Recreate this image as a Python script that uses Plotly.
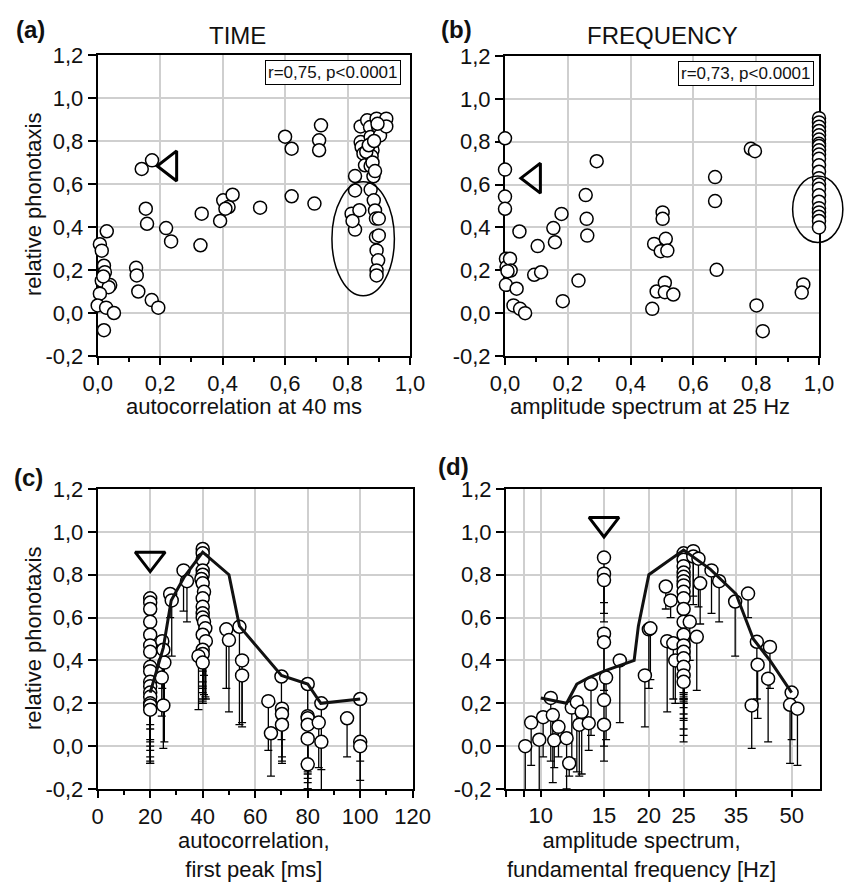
import plotly.graph_objects as go

# ---------------- data ----------------
# Panel (a): autocorrelation at 40 ms vs relative phonotaxis
a_x = [0.029, 0.007, 0.013, 0.020, 0.023, 0.013, 0.040, 0.035, 0.007, 0.000, 0.027, 0.052, 0.020, 0.018,
       0.123, 0.125, 0.130, 0.173, 0.194, 0.141, 0.174, 0.154, 0.158, 0.219, 0.235,
       0.333, 0.329, 0.392, 0.402, 0.419, 0.409, 0.432, 0.520, 0.600, 0.621, 0.621, 0.694, 0.715, 0.709, 0.709,
       0.824, 0.824, 0.813, 0.824, 0.816, 0.838, 0.842, 0.842, 0.845, 0.851, 0.856, 0.863, 0.872, 0.874,
       0.877, 0.880, 0.877, 0.874, 0.883, 0.874, 0.884, 0.888, 0.891, 0.900, 0.891, 0.900, 0.893, 0.898,
       0.893, 0.893, 0.893, 0.898, 0.904, 0.924, 0.924, 0.896, 0.860, 0.868, 0.880, 0.885, 0.888]
a_y = [0.38, 0.32, 0.29, 0.22, 0.19, 0.15, 0.13, 0.12, 0.09, 0.035, 0.025, 0.00, -0.08, 0.17,
       0.21, 0.175, 0.10, 0.06, 0.025, 0.67, 0.71, 0.485, 0.415, 0.395, 0.333,
       0.462, 0.315, 0.428, 0.524, 0.493, 0.485, 0.55, 0.49, 0.82, 0.764, 0.543, 0.509, 0.873, 0.803, 0.757,
       0.637, 0.57, 0.462, 0.388, 0.428, 0.478, 0.868, 0.795, 0.772, 0.741, 0.687, 0.896, 0.865, 0.819,
       0.788, 0.757, 0.729, 0.684, 0.636, 0.574, 0.524, 0.477, 0.439, 0.439, 0.353, 0.361, 0.291, 0.245,
       0.198, 0.175, 0.904, 0.865, 0.826, 0.904, 0.868, 0.88, 0.75, 0.78, 0.70, 0.80, 0.66]

# Panel (b): amplitude spectrum at 25 Hz vs relative phonotaxis
b_x = [0.0, 0.0, 0.0, 0.0, 0.003, 0.005, 0.016, 0.018, 0.008, 0.003, 0.037, 0.046, 0.027, 0.048, 0.064,
       0.104, 0.093, 0.115, 0.154, 0.159, 0.180, 0.184, 0.234, 0.257, 0.260, 0.262, 0.292,
       0.469, 0.475, 0.496, 0.502, 0.502, 0.512, 0.517, 0.483, 0.509, 0.509, 0.536,
       0.669, 0.669, 0.674, 0.783, 0.796, 0.801, 0.821, 0.950, 0.945,
       1.0, 1.0, 1.0, 1.0, 1.0, 1.0, 1.0, 1.0, 1.0, 1.0, 1.0, 1.0,
       1.0, 1.0, 1.0, 1.0, 1.0, 1.0, 1.0, 1.0, 1.0, 1.0, 1.0]
b_y = [0.816, 0.67, 0.544, 0.487, 0.254, 0.215, 0.254, 0.199, 0.196, 0.132, 0.114, 0.381, 0.036, 0.02, 0.0,
       0.313, 0.179, 0.191, 0.397, 0.331, 0.463, 0.056, 0.152, 0.551, 0.44, 0.362, 0.709,
       0.02, 0.323, 0.289, 0.47, 0.44, 0.347, 0.292, 0.101, 0.142, 0.098, 0.087,
       0.635, 0.523, 0.202, 0.767, 0.756, 0.036, -0.084, 0.134, 0.096,
       0.91, 0.89, 0.87, 0.85, 0.83, 0.81, 0.79, 0.78, 0.76, 0.74, 0.72, 0.69,
       0.66, 0.63, 0.60, 0.58, 0.55, 0.52, 0.49, 0.47, 0.45, 0.43, 0.40]

# Panel (c): autocorrelation first peak [ms]; y with lower error bar end
c_x = [20, 20, 20, 20, 20, 20, 20, 20, 20, 20, 20, 20, 20, 20, 20, 20,
       24.6, 24.4, 25.4, 25.0, 25.0, 27.6, 28.2, 32.7, 34.0,
       40, 40, 40, 40, 40, 39.5, 40, 40.5, 40, 40, 40, 40, 40.5, 41, 40, 41.2, 40, 40, 38.4, 40,
       49, 50, 54, 55, 55, 65, 66, 70, 70.2, 70.2, 70.2,
       80, 80, 80, 80, 80, 80, 84.2, 85.2, 85.2, 95, 100, 100, 100]
c_y = [0.69, 0.67, 0.64, 0.58, 0.52, 0.47, 0.44, 0.37, 0.35, 0.30, 0.28, 0.25, 0.23, 0.20, 0.19, 0.17,
       0.49, 0.32, 0.39, 0.19, 0.45, 0.71, 0.68, 0.82, 0.77,
       0.92, 0.90, 0.87, 0.82, 0.80, 0.78, 0.76, 0.72, 0.69, 0.65, 0.62, 0.60, 0.58, 0.55, 0.52, 0.49, 0.45, 0.43, 0.42, 0.39,
       0.545, 0.495, 0.557, 0.40, 0.33, 0.21, 0.06, 0.325, 0.175, 0.15, 0.10,
       0.29, 0.14, 0.13, 0.10, 0.035, -0.085, 0.11, 0.02, 0.20, 0.13, 0.22, 0.02, 0.0]
c_low = [0.58, 0.45, 0.32, 0.27, 0.20, 0.15, 0.10, 0.08, 0.03, 0.02, 0.0, -0.02, -0.05, -0.07, -0.08, -0.08,
         0.27, 0.14, 0.02, -0.01, 0.18, 0.60, 0.42, 0.63, 0.58,
         0.62, 0.55, 0.50, 0.45, 0.42, 0.38, 0.35, 0.33, 0.30, 0.28, 0.27, 0.25, 0.24, 0.23, 0.22, 0.22, 0.21, 0.20, 0.17, 0.20,
         0.27, 0.16, 0.10, 0.09, 0.11, -0.02, -0.14, 0.03, -0.05, -0.08, -0.07,
         -0.12, -0.13, -0.15, -0.17, -0.20, -0.20, -0.10, -0.25, -0.11, -0.05, -0.07, -0.16, -0.22]
c_line_x = [20, 25, 28, 33, 40, 50, 54, 70, 80, 85, 100]
c_line_y = [0.25, 0.46, 0.68, 0.79, 0.905, 0.80, 0.56, 0.33, 0.29, 0.20, 0.22]

# Panel (d): fundamental frequency [Hz] (log axis)
d_x = [9.05, 9.4, 9.9, 10.15, 10.66, 10.8, 10.9, 11.2, 11.8, 12.0, 12.2, 12.6, 12.8, 13.0, 13.6, 13.8,
       15, 15, 15, 15, 15, 15.2, 15, 15, 16.6, 19.5, 20, 20.2, 22.3, 23.0, 22.5, 23.4, 23.7,
       25, 25, 25, 25, 25, 25, 25, 25, 25, 25, 25, 25, 25, 25, 25, 25, 25, 25,
       26, 26.6, 26.6, 27.5, 27.2, 27.8, 29.9, 31.4, 34.8, 37.8, 38.7, 40, 40.2, 43, 43.5, 50, 49.5, 51.9]
d_y = [0.0, 0.11, 0.03, 0.135, 0.225, 0.145, 0.027, 0.09, 0.037, -0.08, 0.18, 0.205, 0.10, 0.16, 0.107, 0.29,
       0.88, 0.805, 0.775, 0.525, 0.485, 0.32, 0.215, 0.10, 0.40, 0.33, 0.545, 0.55, 0.745, 0.68, 0.49, 0.48, 0.40,
       0.90, 0.87, 0.84, 0.81, 0.79, 0.77, 0.75, 0.72, 0.69, 0.64, 0.58, 0.52, 0.47, 0.44, 0.41, 0.37, 0.33, 0.30,
       0.58, 0.91, 0.885, 0.875, 0.51, 0.76, 0.82, 0.77, 0.675, 0.712, 0.19, 0.487, 0.38, 0.315, 0.463, 0.25, 0.193, 0.175]
d_low = [-0.25, -0.09, -0.25, -0.05, -0.07, -0.17, -0.10, -0.05, -0.20, -0.14, -0.06, -0.12, -0.14, -0.13, -0.02, 0.05,
         0.67, 0.62, 0.58, 0.26, 0.20, 0.03, 0.0, -0.07, 0.11, 0.09, 0.27, 0.31, 0.64, 0.60, 0.16, 0.22, 0.20,
         0.25, 0.22, 0.20, 0.18, 0.15, 0.13, 0.12, 0.08, 0.05, 0.02, 0.20, 0.22, 0.23, 0.20, 0.21, 0.24, 0.25, 0.22,
         0.40, 0.70, 0.66, 0.65, 0.26, 0.57, 0.62, 0.58, 0.42, 0.60, -0.01, 0.22, 0.13, 0.02, 0.27, 0.03, -0.08, -0.09]
d_line_x = [10, 11.8, 12.6, 13.6, 15, 18.2, 18.7, 20, 25, 29.7, 35, 39.1, 43.5, 50]
d_line_y = [0.225, 0.20, 0.29, 0.32, 0.35, 0.40, 0.56, 0.80, 0.915, 0.825, 0.71, 0.50, 0.40, 0.25]

# stimulus markers (open triangles) and highlighted clusters (ellipses: x0, x1, y0, y1 in data units)
tri_a = (0.232, 0.684)
tri_b = (0.092, 0.63)
tri_c = (20, 0.875)
tri_d = (15, 1.037)
ell_a = (0.75, 0.95, 0.08, 0.61)
ell_b = (0.916, 1.076, 0.33, 0.64)

y_ticks = [-0.2, 0.0, 0.2, 0.4, 0.6, 0.8, 1.0, 1.2]
y_labels = ["-0,2", "0,0", "0,2", "0,4", "0,6", "0,8", "1,0", "1,2"]
ab_ticks = [0.0, 0.2, 0.4, 0.6, 0.8, 1.0]
ab_labels = ["0,0", "0,2", "0,4", "0,6", "0,8", "1,0"]
c_ticks = [0, 20, 40, 60, 80, 100, 120]
d_ticks = [8, 9, 10, 15, 20, 25, 35, 50]
d_labels = ["", "", "10", "15", "20", "25", "35", "50"]

# ---------------- figure ----------------
W, H = 846, 883
FONT = "Liberation Sans, Arial, Helvetica, sans-serif"
GRID = "#cfcfcf"
Y_RANGE = [-0.2, 1.2]
AB_RANGE = [0.0, 1.0]


def px(v):
    return v / W


def py(v):
    return 1 - v / H


fig = go.Figure()

marker = dict(symbol="circle", size=13, color="white", line=dict(color="black", width=1.5))

fig.add_trace(go.Scatter(x=a_x, y=a_y, mode="markers", marker=marker, xaxis="x", yaxis="y",
                         cliponaxis=False, showlegend=False))
fig.add_trace(go.Scatter(x=b_x, y=b_y, mode="markers", marker=marker, xaxis="x2", yaxis="y2",
                         cliponaxis=False, showlegend=False))

c_err = [yv - lv for yv, lv in zip(c_y, c_low)]
fig.add_trace(go.Scatter(x=c_x, y=c_y, mode="markers", marker=marker, xaxis="x3", yaxis="y3",
                         error_y=dict(type="data", symmetric=False, array=[0] * len(c_y), arrayminus=c_err,
                                      color="black", thickness=1.3, width=4),
                         showlegend=False))
fig.add_trace(go.Scatter(x=c_line_x, y=c_line_y, mode="lines", line=dict(color="#111", width=3),
                         xaxis="x3", yaxis="y3", showlegend=False))

d_err = [yv - lv for yv, lv in zip(d_y, d_low)]
fig.add_trace(go.Scatter(x=d_x, y=d_y, mode="markers", marker=marker, xaxis="x4", yaxis="y4",
                         error_y=dict(type="data", symmetric=False, array=[0] * len(d_y), arrayminus=d_err,
                                      color="black", thickness=1.3, width=4),
                         showlegend=False))
fig.add_trace(go.Scatter(x=d_line_x, y=d_line_y, mode="lines", line=dict(color="#111", width=3),
                         xaxis="x4", yaxis="y4", showlegend=False))

# triangles
for (tx, ty), sym, xa, ya in [(tri_a, "triangle-left-open", "x", "y"),
                              (tri_b, "triangle-left-open", "x2", "y2"),
                              (tri_c, "triangle-down-open", "x3", "y3"),
                              (tri_d, "triangle-down-open", "x4", "y4")]:
    fig.add_trace(go.Scatter(x=[tx], y=[ty], mode="markers", xaxis=xa, yaxis=ya, cliponaxis=False,
                             marker=dict(symbol=sym, size=26, color="black", line=dict(color="black", width=3)),
                             showlegend=False))

# domains (pixel measurements of the reference)
dom = {
    "a": ([px(97.7), px(410)], [py(356), py(55)]),
    "b": ([px(505), px(819)], [py(356), py(56)]),
    "c": ([px(97.7), px(412.7)], [py(789), py(489)]),
    "d": ([px(506), px(820)], [py(789), py(489)]),
}

common = dict(showline=True, linecolor="black", linewidth=2, mirror=True, ticks="outside",
              tickcolor="black", tickwidth=1.5, showgrid=True, gridcolor=GRID, gridwidth=2,
              zeroline=False, layer="below traces",
              tickfont=dict(family=FONT, size=22, color="#111"))

yax = dict(common, range=Y_RANGE, tickvals=y_ticks, ticktext=y_labels, ticklen=8)

fig.update_layout(
    xaxis=dict(common, domain=dom["a"][0], anchor="y", range=AB_RANGE, tickvals=ab_ticks, ticktext=ab_labels,
               ticklen=7, minor=dict(dtick=0.1, tick0=0, ticks="outside", ticklen=4, tickcolor="black",
                                     showgrid=False)),
    yaxis=dict(yax, domain=dom["a"][1], anchor="x"),
    xaxis2=dict(common, domain=dom["b"][0], anchor="y2", range=AB_RANGE, tickvals=ab_ticks, ticktext=ab_labels,
                ticklen=7, minor=dict(dtick=0.1, tick0=0, ticks="outside", ticklen=4, tickcolor="black",
                                      showgrid=False)),
    yaxis2=dict(yax, domain=dom["b"][1], anchor="x2"),
    xaxis3=dict(common, domain=dom["c"][0], anchor="y3", range=[0, 120], tickvals=c_ticks,
                ticklen=7, minor=dict(dtick=10, tick0=0, ticks="outside", ticklen=4, tickcolor="black",
                                      showgrid=False)),
    yaxis3=dict(yax, domain=dom["c"][1], anchor="x3"),
    xaxis4=dict(common, domain=dom["d"][0], anchor="y4", type="log", range=[0.903, 1.778],
                tickvals=d_ticks, ticktext=d_labels, ticklen=6),
    yaxis4=dict(yax, domain=dom["d"][1], anchor="x4"),
    width=W, height=H,
    margin=dict(l=0, r=0, t=0, b=0, autoexpand=False),
    paper_bgcolor="white", plot_bgcolor="white",
    font=dict(family=FONT, color="#111"),
)


# ellipses: converted from data units to paper units so they are not clipped at the frame
def ellipse_paper(ell, panel):
    (dx0, dx1), (dy0, dy1) = dom[panel]
    fx = lambda v: dx0 + (v - AB_RANGE[0]) / (AB_RANGE[1] - AB_RANGE[0]) * (dx1 - dx0)
    fy = lambda v: dy0 + (v - Y_RANGE[0]) / (Y_RANGE[1] - Y_RANGE[0]) * (dy1 - dy0)
    return fx(ell[0]), fx(ell[1]), fy(ell[2]), fy(ell[3])


for ell, panel in [(ell_a, "a"), (ell_b, "b")]:
    x0, x1, y0, y1 = ellipse_paper(ell, panel)
    fig.add_shape(type="circle", xref="paper", yref="paper", x0=x0, x1=x1, y0=y0, y1=y1,
                  line=dict(color="black", width=1.5), layer="above")

ann = []


def text(x, y, t, size=22, bold=False, xanchor="center", yanchor="middle", angle=0, **kw):
    ann.append(dict(x=px(x), y=py(y), xref="paper", yref="paper", text=("<b>%s</b>" % t) if bold else t,
                    showarrow=False, xanchor=xanchor, yanchor=yanchor, textangle=angle,
                    font=dict(family=FONT, size=size, color="#111"), **kw))


text(30, 29, "(a)", size=24, bold=True)
text(456, 29, "(b)", size=24, bold=True)
text(28, 477, "(c)", size=24, bold=True)
text(453, 466, "(d)", size=24, bold=True)
text(237, 36, "TIME", size=24)
text(662, 36, "FREQUENCY", size=24)
text(33, 205, "relative phonotaxis", angle=-90)
text(33, 639, "relative phonotaxis", angle=-90)
text(244, 406, "autocorrelation at 40 ms")
text(650, 406, "amplitude spectrum at 25 Hz")
text(254, 855, "autocorrelation,<br>first peak [ms]")
text(641, 855, "amplitude spectrum,<br>fundamental frequency [Hz]")
text(401, 60, "r=0,75, p<0.0001", size=17, xanchor="right", yanchor="top",
     bordercolor="black", borderwidth=1, borderpad=2, bgcolor="white")
text(814, 61, "r=0,73, p<0.0001", size=17, xanchor="right", yanchor="top",
     bordercolor="black", borderwidth=1, borderpad=2, bgcolor="white")

fig.update_layout(annotations=ann)

fig.write_html("out.html")
